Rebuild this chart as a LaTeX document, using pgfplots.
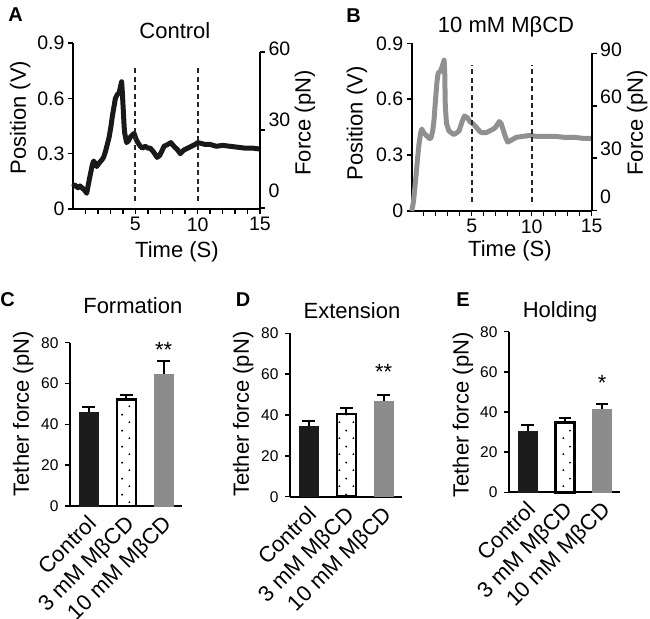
\documentclass[border=0pt]{standalone}
\usepackage{fontspec}
\setmainfont{Liberation Sans}
\setsansfont{Liberation Sans}
\usepackage{pgfplots}
\pgfplotsset{compat=1.18}
\usetikzlibrary{patterns}
\definecolor{ctrl}{HTML}{1C1C1C}
\definecolor{mbcd}{HTML}{8C8C8C}
\definecolor{trB}{HTML}{909090}
\newcommand{\fL}{\fontsize{22}{26}\selectfont}
\newcommand{\fT}{\fontsize{19.5}{22}\selectfont}
\newcommand{\fS}{\fontsize{15.5}{18}\selectfont}
\newcommand{\fP}{\fontsize{20}{22}\selectfont\bfseries}
\pgfdeclarepatternformonly{sparsedots}{\pgfpointorigin}{\pgfqpoint{14pt}{16pt}}{\pgfqpoint{14pt}{16pt}}{%
  \pgfpathcircle{\pgfqpoint{3.5pt}{4pt}}{1.1pt}%
  \pgfpathcircle{\pgfqpoint{10.5pt}{12pt}}{1.1pt}%
  \pgfusepath{fill}}
\pgfplotsset{
  base/.style={
    scale only axis, anchor=south west, clip=false,
    axis line style={line width=1.8pt, black},
    tick style={line width=1.5pt, black},
    tick align=outside,
    major tick length=5pt, minor tick length=5pt,
    /pgf/number format/assume math mode=true,
    enlargelimits=false,
  },
  trace/.style={base,
    axis x line*=bottom, axis y line*=left,
    xmin=0, xmax=15, ymin=0, ymax=0.9,
    xtick={5,10,15}, minor xtick={1,2,3,4,6,7,8,9,11,12,13,14},
    ytick={0,0.3,0.6,0.9}, yticklabels={0,0.3,0.6,0.9},
    tick label style={font=\fT},
    xlabel={Time (S)}, ylabel={Position (V)},
    title style={font=\fL, anchor=center},
  },
  force/.style={base,
    axis x line=none, axis y line*=right,
    xmin=0, xmax=15, ymin=0,
    xtick=\empty,
    tick label style={font=\fT},
    ylabel={Force (pN)},
  },
  bars/.style={base,
    axis x line*=bottom, axis y line*=left,
    bar width=19pt,
    xmin=-0.5, xmax=2.48, ymin=0, ymax=80,
    xtick={0,1,2},
    xticklabels={Control, 3 mM MβCD, 10 mM MβCD},
    xtick style={draw=none},
    xticklabel style={font=\fL, rotate=45, anchor=north east, yshift=3pt},
    ytick={0,20,40,60,80},
    yticklabel style={font=\fS, xshift=-3pt},
    ylabel={Tether force (pN)},
    title style={font=\fL, anchor=center},
  },
  bar/.style={ybar, bar width=19pt, bar shift=0pt},
  eb/.style={black, line width=1.8pt, forget plot},
  vdash/.style={black!85, line width=1.8pt, dash pattern=on 5pt off 3.5pt},
}
\begin{document}
\begin{tikzpicture}
\useasboundingbox (0,0) rectangle (650pt,618pt);
% ---------------- Panel A ----------------
\node[font=\fP] at (15.5pt,603pt) {A};
\begin{axis}[trace, at={(73pt,409pt)}, width=187pt, height=166pt,
  every axis y label/.style={at={(axis description cs:-0.283,0.55)}, rotate=90, anchor=center, font=\fL},
  every axis x label/.style={at={(axis description cs:0.556,-0.255)}, anchor=center, font=\fL},
  title={Control}, title style={at={(axis description cs:0.545,1.036)}}]
\addplot[black!90, line width=5pt, line join=round] coordinates {
(0,0.12) (0.15,0.13) (0.4,0.115) (0.56,0.125) (0.8,0.11) (0.96,0.10) (1.1,0.085)
(1.25,0.14) (1.4,0.19) (1.55,0.24) (1.66,0.26) (1.8,0.245) (1.9,0.23) (2.1,0.25)
(2.3,0.265) (2.45,0.28) (2.6,0.31) (2.75,0.35) (2.9,0.39) (3.05,0.45) (3.15,0.50)
(3.3,0.56) (3.4,0.60) (3.55,0.62) (3.7,0.63) (3.8,0.66) (3.9,0.69) (3.95,0.64)
(4.0,0.58) (4.1,0.45) (4.15,0.41) (4.3,0.36) (4.45,0.37) (4.6,0.39) (4.75,0.40)
(4.9,0.41) (5.05,0.38) (5.2,0.36) (5.4,0.34) (5.55,0.33) (5.8,0.34) (6.0,0.33)
(6.2,0.33) (6.45,0.31) (6.75,0.28) (6.95,0.29) (7.1,0.31) (7.3,0.34) (7.6,0.35)
(7.85,0.36) (8.1,0.34) (8.4,0.32) (8.6,0.30) (8.9,0.32) (9.2,0.33) (9.5,0.34)
(9.8,0.35) (10.0,0.36) (10.3,0.355) (10.6,0.35) (11.0,0.35) (11.5,0.34) (12.0,0.345)
(12.6,0.34) (13.2,0.335) (13.8,0.33) (14.4,0.33) (15,0.325)};
\addplot[vdash] coordinates {(5,0.045) (5,0.78)};
\addplot[vdash] coordinates {(10,0.045) (10,0.78)};
\end{axis}
\begin{axis}[force, at={(73pt,410pt)}, width=187pt, height=156pt, ymax=60,
  ytick={0,30,60},
  yticklabels={\smash{\raisebox{10pt}{0}},\smash{\raisebox{3pt}{30}},\smash{\raisebox{-4pt}{60}}},
  every axis y label/.style={at={(axis description cs:1.24,0.545)}, rotate=90, anchor=center, font=\fL}]
\end{axis}
% ---------------- Panel B ----------------
\node[font=\fP] at (353.5pt,602.5pt) {B};
\begin{axis}[trace, at={(411.7pt,407pt)}, width=180pt, height=167.7pt,
  every axis y label/.style={at={(axis description cs:-0.304,0.523)}, rotate=90, anchor=center, font=\fL},
  every axis x label/.style={at={(axis description cs:0.546,-0.24)}, anchor=center, font=\fL},
  title={10 mM MβCD}, title style={at={(axis description cs:0.524,1.061)}}]
\addplot[trB, line width=5pt, line join=round] coordinates {
(0,0) (0.15,0.05) (0.33,0.17) (0.5,0.29) (0.61,0.36) (0.75,0.42) (0.84,0.44)
(1.0,0.42) (1.15,0.41) (1.3,0.40) (1.45,0.39) (1.6,0.39) (1.75,0.43) (1.85,0.48)
(2.0,0.61) (2.1,0.69) (2.2,0.74) (2.4,0.75) (2.56,0.78) (2.7,0.81) (2.75,0.75)
(2.8,0.56) (2.9,0.47) (3.1,0.43) (3.3,0.42) (3.5,0.41) (3.75,0.42) (3.95,0.43)
(4.2,0.48) (4.4,0.51) (4.65,0.50) (4.85,0.48) (5.07,0.47) (5.3,0.455) (5.5,0.44)
(5.7,0.425) (5.9,0.42) (6.2,0.42) (6.5,0.43) (6.8,0.44) (7.0,0.45) (7.3,0.48)
(7.45,0.47) (7.6,0.44) (7.8,0.40) (8.0,0.37) (8.3,0.38) (8.7,0.395) (9.2,0.40)
(9.8,0.405) (10.5,0.40) (11.2,0.40) (12,0.40) (12.8,0.395) (13.6,0.395) (14.3,0.39) (15,0.39)};
\addplot[vdash] coordinates {(5,0.05) (5,0.786)};
\addplot[vdash] coordinates {(10,0.05) (10,0.786)};
\end{axis}
\begin{axis}[force, at={(411.7pt,407.3pt)}, width=180pt, height=157.4pt, ymax=90,
  ytick={0,30,60,90},
  yticklabels={\smash{\raisebox{7pt}{0}},\smash{\raisebox{3pt}{30}},\smash{\raisebox{2pt}{60}},\smash{\raisebox{-3pt}{90}}},
  every axis y label/.style={at={(axis description cs:1.252,0.557)}, rotate=90, anchor=center, font=\fL}]
\end{axis}
% ---------------- Panel C ----------------
\node[font=\fP] at (7.5pt,318pt) {C};
\begin{axis}[bars, at={(70pt,112pt)}, width=111.7pt, height=163.3pt,
  every axis y label/.style={at={(axis description cs:-0.42,0.565)}, rotate=90, anchor=center, font=\fL},
  title={Formation}, title style={at={(axis description cs:0.5625,1.188)}}]
\addplot[eb] coordinates {(0,45.9) (0,48.6)};
\addplot[eb] coordinates {(-0.17,48.6) (0.17,48.6)};
\addplot[eb] coordinates {(1,52.2) (1,54.4)};
\addplot[eb] coordinates {(0.83,54.4) (1.17,54.4)};
\addplot[eb] coordinates {(2,64.7) (2,71.0)};
\addplot[eb] coordinates {(1.83,71.0) (2.17,71.0)};
\addplot[bar, fill=ctrl, draw=ctrl] coordinates {(0,45.9)};
\addplot[bar, fill=white, draw=black, line width=2.4pt, postaction={pattern=sparsedots}] coordinates {(1,52.2)};
\addplot[bar, fill=mbcd, draw=mbcd] coordinates {(2,64.7)};
\node[font=\fL] at (axis cs:2,76.4) {**};
\end{axis}
% ---------------- Panel D ----------------
\node[font=\fP] at (243pt,318pt) {D};
\begin{axis}[bars, at={(290pt,121.3pt)}, width=111.7pt, height=163.3pt,
  every axis y label/.style={at={(axis description cs:-0.42,0.506)}, rotate=90, anchor=center, font=\fL},
  title={Extension}, title style={at={(axis description cs:0.555,1.10)}}]
\addplot[eb] coordinates {(0,34.3) (0,37.1)};
\addplot[eb] coordinates {(-0.17,37.1) (0.17,37.1)};
\addplot[eb] coordinates {(1,40.5) (1,43.3)};
\addplot[eb] coordinates {(0.83,43.3) (1.17,43.3)};
\addplot[eb] coordinates {(2,46.9) (2,49.9)};
\addplot[eb] coordinates {(1.83,49.9) (2.17,49.9)};
\addplot[bar, fill=ctrl, draw=ctrl] coordinates {(0,34.3)};
\addplot[bar, fill=white, draw=black, line width=2.4pt, postaction={pattern=sparsedots}] coordinates {(1,40.5)};
\addplot[bar, fill=mbcd, draw=mbcd] coordinates {(2,46.9)};
\node[font=\fL] at (axis cs:2,61.1) {**};
\end{axis}
% ---------------- Panel E ----------------
\node[font=\fP] at (463pt,318pt) {E};
\begin{axis}[bars, at={(509pt,125.7pt)}, width=111pt, height=160.6pt,
  every axis y label/.style={at={(axis description cs:-0.414,0.481)}, rotate=90, anchor=center, font=\fL},
  title={Holding}, title style={at={(axis description cs:0.46,1.089)}}]
\addplot[eb] coordinates {(0,30.5) (0,33.5)};
\addplot[eb] coordinates {(-0.17,33.5) (0.17,33.5)};
\addplot[eb] coordinates {(1,34.7) (1,37.2)};
\addplot[eb] coordinates {(0.83,37.2) (1.17,37.2)};
\addplot[eb] coordinates {(2,41.5) (2,44.1)};
\addplot[eb] coordinates {(1.83,44.1) (2.17,44.1)};
\addplot[bar, fill=ctrl, draw=ctrl] coordinates {(0,30.5)};
\addplot[bar, fill=white, draw=black, line width=2.4pt, postaction={pattern=sparsedots}] coordinates {(1,34.7)};
\addplot[bar, fill=mbcd, draw=mbcd] coordinates {(2,41.5)};
\node[font=\fL] at (axis cs:2,54.4) {*};
\end{axis}
\end{tikzpicture}
\end{document}
